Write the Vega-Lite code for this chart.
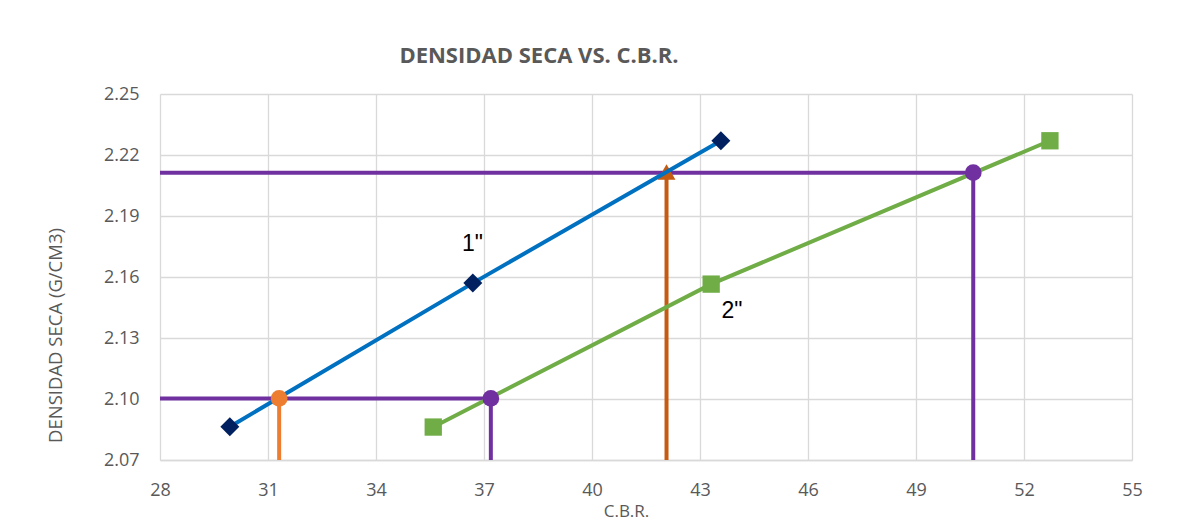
{
  "$schema": "https://vega.github.io/schema/vega-lite/v6.json",
  "width": 972,
  "height": 366,
  "autosize": {"type": "none"},
  "padding": {"left": 160, "top": 94, "right": 57, "bottom": 71},
  "background": "white",
  "config": {"font": "Open Sans", "view": {"stroke": null}},
  "title": {
    "text": "DENSIDAD SECA VS. C.B.R.",
    "anchor": "middle",
    "dx": -107,
    "offset": 0,
    "baseline": "alphabetic",
    "font": "Open Sans",
    "fontSize": 22,
    "fontWeight": "bold",
    "color": "#595959"
  },
  "datasets": {
    "lines": [
      {"g": "h1", "x": 28, "y": 2.1003, "o": 1},
      {"g": "h1", "x": 37.19, "y": 2.1003, "o": 2},
      {"g": "h2", "x": 28, "y": 2.2113, "o": 1},
      {"g": "h2", "x": 50.59, "y": 2.2113, "o": 2},
      {"g": "v1", "x": 37.19, "y": 2.07, "o": 1},
      {"g": "v1", "x": 37.19, "y": 2.1003, "o": 2},
      {"g": "v2", "x": 50.59, "y": 2.07, "o": 1},
      {"g": "v2", "x": 50.59, "y": 2.2113, "o": 2},
      {"g": "vo", "x": 31.31, "y": 2.07, "o": 1},
      {"g": "vo", "x": 31.31, "y": 2.1003, "o": 2},
      {"g": "va", "x": 42.07, "y": 2.07, "o": 1},
      {"g": "va", "x": 42.07, "y": 2.211, "o": 2},
      {"g": "s1", "x": 29.94, "y": 2.0864, "o": 1},
      {"g": "s1", "x": 36.69, "y": 2.157, "o": 2},
      {"g": "s1", "x": 43.58, "y": 2.227, "o": 3},
      {"g": "s2", "x": 35.59, "y": 2.0862, "o": 1},
      {"g": "s2", "x": 43.31, "y": 2.1565, "o": 2},
      {"g": "s2", "x": 52.72, "y": 2.227, "o": 3}
    ],
    "points": [
      {"s": "d", "x": 29.94, "y": 2.0864},
      {"s": "d", "x": 36.69, "y": 2.157},
      {"s": "d", "x": 43.58, "y": 2.227},
      {"s": "sq", "x": 35.59, "y": 2.0862},
      {"s": "sq", "x": 43.31, "y": 2.1565},
      {"s": "sq", "x": 52.72, "y": 2.227},
      {"s": "cp", "x": 37.19, "y": 2.1003},
      {"s": "cp", "x": 50.59, "y": 2.2113},
      {"s": "co", "x": 31.31, "y": 2.1003},
      {"s": "tri", "x": 42.07, "y": 2.2116}
    ],
    "labels": [
      {"t": "1\"", "x": 36.68, "y": 2.1762},
      {"t": "2\"", "x": 43.89, "y": 2.1433}
    ]
  },
  "encoding": {
    "x": {
      "field": "x",
      "type": "quantitative",
      "scale": {"domain": [28, 55], "nice": false, "zero": false},
      "axis": {
        "values": [28, 31, 34, 37, 40, 43, 46, 49, 52, 55],
        "title": "C.B.R.",
        "grid": true,
        "gridColor": "#d9d9d9",
        "gridWidth": 1.3,
        "domain": true,
        "domainColor": "#d9d9d9",
        "domainWidth": 1.5,
        "ticks": false,
        "labelFont": "Open Sans",
        "labelFontSize": 18,
        "labelColor": "#595959",
        "labelBaseline": "middle",
        "labelPadding": 30,
        "labelFlush": false,
        "titleFont": "Open Sans",
        "titleFontSize": 17,
        "titleFontWeight": "normal",
        "titleColor": "#595959",
        "titleX": 466,
        "titleY": 51,
        "titleAlign": "center",
        "titleBaseline": "middle"
      }
    },
    "y": {
      "field": "y",
      "type": "quantitative",
      "scale": {"domain": [2.07, 2.25], "nice": false, "zero": false},
      "axis": {
        "values": [2.07, 2.10, 2.13, 2.16, 2.19, 2.22, 2.25],
        "format": ".2f",
        "title": "DENSIDAD SECA (G/CM3)",
        "grid": true,
        "gridColor": "#d9d9d9",
        "gridWidth": 1.3,
        "domain": false,
        "ticks": false,
        "labelFont": "Open Sans",
        "labelFontSize": 18,
        "labelColor": "#595959",
        "labelPadding": 21,
        "labelFlush": false,
        "titleFont": "Open Sans",
        "titleFontSize": 18.5,
        "titleFontWeight": "normal",
        "titleColor": "#595959",
        "titleX": -105,
        "titleY": 241,
        "titleAngle": -90,
        "titleAlign": "center",
        "titleBaseline": "middle"
      }
    }
  },
  "layer": [
    {
      "data": {"name": "lines"},
      "transform": [{"filter": {"field": "g", "oneOf": ["h1", "h2", "v1", "v2"]}}],
      "mark": {"type": "line", "color": "#7030A0", "strokeWidth": 4, "strokeCap": "butt"},
      "encoding": {"detail": {"field": "g", "type": "nominal"}, "order": {"field": "o", "type": "quantitative"}}
    },
    {
      "data": {"name": "lines"},
      "transform": [{"filter": {"field": "g", "equal": "vo"}}],
      "mark": {"type": "line", "color": "#ED7D31", "strokeWidth": 4, "strokeCap": "butt"},
      "encoding": {"order": {"field": "o", "type": "quantitative"}}
    },
    {
      "data": {"name": "lines"},
      "transform": [{"filter": {"field": "g", "equal": "va"}}],
      "mark": {"type": "line", "color": "#C55A11", "strokeWidth": 4, "strokeCap": "butt"},
      "encoding": {"order": {"field": "o", "type": "quantitative"}}
    },
    {
      "data": {"name": "points"},
      "transform": [{"filter": {"field": "s", "equal": "tri"}}],
      "mark": {"type": "point", "shape": "triangle-up", "filled": true, "color": "#C55A11", "size": 320, "opacity": 1}
    },
    {
      "data": {"name": "lines"},
      "transform": [{"filter": {"field": "g", "equal": "s1"}}],
      "mark": {"type": "line", "color": "#0070C0", "strokeWidth": 4},
      "encoding": {"order": {"field": "o", "type": "quantitative"}}
    },
    {
      "data": {"name": "lines"},
      "transform": [{"filter": {"field": "g", "equal": "s2"}}],
      "mark": {"type": "line", "color": "#70AD47", "strokeWidth": 4},
      "encoding": {"order": {"field": "o", "type": "quantitative"}}
    },
    {
      "data": {"name": "points"},
      "transform": [{"filter": {"field": "s", "equal": "d"}}],
      "mark": {"type": "point", "shape": "diamond", "filled": true, "color": "#002060", "size": 360, "opacity": 1}
    },
    {
      "data": {"name": "points"},
      "transform": [{"filter": {"field": "s", "equal": "sq"}}],
      "mark": {"type": "point", "shape": "square", "filled": true, "color": "#70AD47", "size": 300, "opacity": 1}
    },
    {
      "data": {"name": "points"},
      "transform": [{"filter": {"field": "s", "equal": "cp"}}],
      "mark": {"type": "point", "shape": "circle", "filled": true, "color": "#7030A0", "size": 280, "opacity": 1}
    },
    {
      "data": {"name": "points"},
      "transform": [{"filter": {"field": "s", "equal": "co"}}],
      "mark": {"type": "point", "shape": "circle", "filled": true, "color": "#ED7D31", "size": 280, "opacity": 1}
    },
    {
      "data": {"name": "labels"},
      "mark": {"type": "text", "font": "Liberation Sans", "fontSize": 23, "color": "#000000", "align": "center", "baseline": "middle"},
      "encoding": {"text": {"field": "t", "type": "nominal"}}
    }
  ]
}
